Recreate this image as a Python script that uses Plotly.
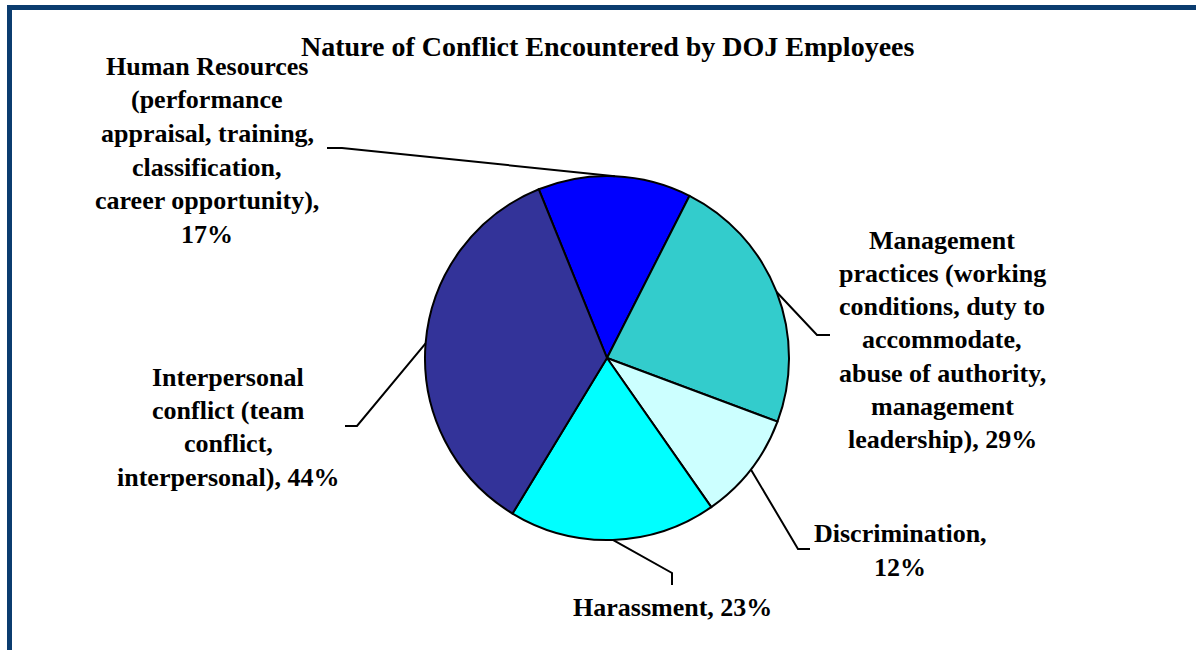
import math
import plotly.graph_objects as go

# ---------------- data ----------------
title_text = "Nature of Conflict Encountered by DOJ Employees"
categories = [
    "Human Resources (performance appraisal, training, classification, career opportunity)",
    "Management practices (working conditions, duty to accommodate, abuse of authority, management leadership)",
    "Discrimination",
    "Harassment",
    "Interpersonal conflict (team conflict, interpersonal)",
]
values = [17, 29, 12, 23, 44]
label_lines = [
    ["Human Resources", "(performance", "appraisal, training,", "classification,", "career opportunity),", "{v}%"],
    ["Management", "practices (working", "conditions, duty to", "accommodate,", "abuse of authority,", "management", "leadership), {v}%"],
    ["Discrimination,", "{v}%"],
    ["Harassment, {v}%"],
    ["Interpersonal", "conflict (team", "conflict,", "interpersonal), {v}%"],
]
colors = ["#0000FF", "#33CCCC", "#CCFFFF", "#00FFFF", "#333399"]

# ---------------- layout constants (pixels) ----------------
W, H = 1196, 650
CX, CY, R = 607, 358, 182
ROT = -22
FONT = "Liberation Serif, Times New Roman, serif"
LABEL_SIZE = 26
TITLE_SIZE = 28
# (center x, first line y, line spacing)
label_pos = [(207, 66, 33.7), (942, 240, 33.3), (900, 533, 34.5), (672, 607, 0), (228, 377, 33.4)]
# leader line points after the anchor on the pie edge
leader_pts = [
    [(342, 148), (327, 148)],
    [(817, 335), (830, 335)],
    [(798, 549), (810, 549)],
    [(672, 573), (672, 585)],
    [(357, 426), (345, 426)],
]
BORDER = "#0B3C6F"


def px(x):
    return x / W


def py(y):
    return 1 - y / H


fig = go.Figure()
fig.add_trace(go.Pie(
    labels=categories,
    values=values,
    sort=False,
    direction="clockwise",
    rotation=ROT,
    marker=dict(colors=colors, line=dict(color="black", width=2)),
    textinfo="none",
    hoverinfo="label+value",
    showlegend=False,
    domain=dict(x=[px(CX - R), px(CX + R)], y=[py(CY + R), py(CY - R)]),
))

annotations = [dict(
    text="<b>" + title_text + "</b>", x=px(607), y=py(46), xref="paper", yref="paper",
    xanchor="center", yanchor="middle", showarrow=False,
    font=dict(family=FONT, size=TITLE_SIZE, color="black"),
)]
shapes = []
total = sum(values)
cum = 0
for i, v in enumerate(values):
    mid = math.radians(ROT + 360 * (cum + v / 2) / total)
    cum += v
    ax, ay = CX + R * math.sin(mid), CY - R * math.cos(mid)
    pts = [(ax, ay)] + leader_pts[i]
    path = "M " + " L ".join(f"{px(x)},{py(y)}" for x, y in pts)
    shapes.append(dict(type="path", path=path, xref="paper", yref="paper",
                       line=dict(color="black", width=2)))
    lx, ly, sp = label_pos[i]
    for j, line in enumerate(label_lines[i]):
        annotations.append(dict(
            text="<b>" + line.format(v=v) + "</b>", x=px(lx), y=py(ly + j * sp),
            xref="paper", yref="paper", xanchor="center", yanchor="middle",
            showarrow=False, font=dict(family=FONT, size=LABEL_SIZE, color="black"),
        ))

# frame
shapes.append(dict(type="rect", xref="paper", yref="paper", x0=px(7), x1=px(W), y0=py(10), y1=py(5),
                   fillcolor=BORDER, line=dict(width=0), layer="below"))
shapes.append(dict(type="rect", xref="paper", yref="paper", x0=px(7), x1=px(12), y0=py(H), y1=py(5),
                   fillcolor=BORDER, line=dict(width=0), layer="below"))

fig.update_layout(
    width=W, height=H,
    margin=dict(l=0, r=0, t=0, b=0),
    paper_bgcolor="white",
    plot_bgcolor="white",
    annotations=annotations,
    shapes=shapes,
)
fig.write_html("out.html")
